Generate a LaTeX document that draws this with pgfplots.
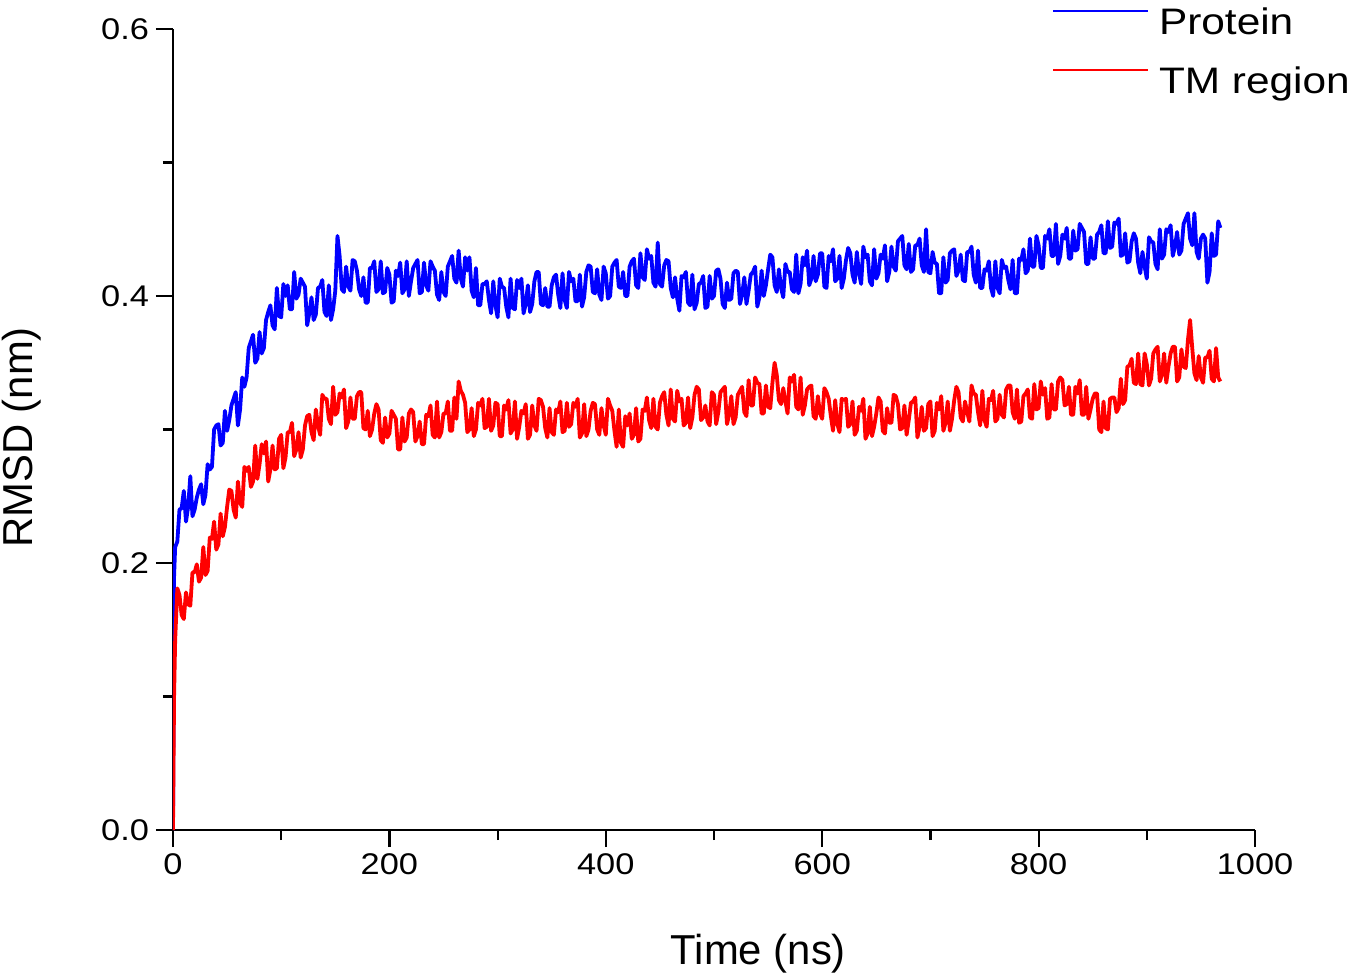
\documentclass[border=0pt]{standalone}
\usepackage{pgfplots}
\pgfplotsset{compat=1.18}
\usepackage{pgfplotstable}
\usepackage{fontspec}
\setmainfont{Liberation Sans}
\newfontfamily\widefont[FakeStretch=1.15]{Liberation Sans}
\pgfplotstableread{
t P T
0 0.000 0.000
1 0.190 0.100
2 0.212 0.142
4 0.216 0.181
6 0.240 0.176
8 0.241 0.161
10 0.254 0.158
12 0.231 0.178
14 0.242 0.169
16 0.265 0.168
18 0.235 0.193
20 0.240 0.193
22 0.249 0.199
24 0.255 0.186
26 0.259 0.189
28 0.244 0.212
30 0.251 0.191
32 0.274 0.194
34 0.270 0.219
36 0.272 0.218
38 0.300 0.231
40 0.303 0.210
42 0.304 0.214
44 0.288 0.237
46 0.290 0.220
48 0.314 0.227
50 0.299 0.242
52 0.307 0.255
54 0.318 0.254
56 0.323 0.240
58 0.328 0.234
60 0.303 0.261
62 0.315 0.245
64 0.339 0.242
66 0.332 0.272
68 0.339 0.269
70 0.361 0.272
72 0.366 0.257
74 0.371 0.261
76 0.350 0.288
78 0.353 0.263
80 0.373 0.274
82 0.357 0.289
84 0.361 0.282
86 0.382 0.291
88 0.388 0.261
90 0.393 0.270
92 0.378 0.288
94 0.375 0.270
96 0.406 0.271
98 0.385 0.293
100 0.384 0.296
102 0.409 0.271
104 0.400 0.279
106 0.408 0.298
108 0.390 0.298
110 0.390 0.305
112 0.418 0.280
114 0.398 0.285
116 0.401 0.298
118 0.413 0.279
120 0.410 0.285
122 0.407 0.303
124 0.378 0.310
126 0.387 0.311
128 0.399 0.298
130 0.382 0.292
132 0.386 0.315
134 0.406 0.303
136 0.407 0.296
138 0.412 0.326
140 0.388 0.323
142 0.385 0.323
144 0.408 0.308
146 0.382 0.304
148 0.390 0.332
150 0.404 0.311
152 0.445 0.313
154 0.430 0.327
156 0.405 0.324
158 0.403 0.330
160 0.422 0.301
162 0.407 0.306
164 0.404 0.324
166 0.427 0.308
168 0.426 0.308
170 0.419 0.325
172 0.405 0.328
174 0.400 0.328
176 0.414 0.301
178 0.395 0.300
180 0.395 0.314
182 0.421 0.295
184 0.421 0.300
186 0.426 0.312
188 0.403 0.319
190 0.405 0.315
192 0.426 0.292
194 0.402 0.290
196 0.403 0.309
198 0.421 0.294
200 0.416 0.297
202 0.395 0.314
204 0.396 0.311
206 0.419 0.308
208 0.415 0.285
210 0.425 0.285
212 0.402 0.309
214 0.405 0.291
216 0.426 0.294
218 0.400 0.312
220 0.411 0.315
222 0.421 0.313
224 0.424 0.291
226 0.427 0.295
228 0.402 0.306
230 0.403 0.289
232 0.425 0.289
234 0.408 0.311
236 0.404 0.310
238 0.426 0.318
240 0.422 0.296
242 0.419 0.294
244 0.401 0.321
246 0.397 0.294
248 0.418 0.298
250 0.403 0.312
252 0.400 0.312
254 0.422 0.321
256 0.426 0.299
258 0.430 0.299
260 0.413 0.324
262 0.410 0.308
264 0.434 0.336
266 0.413 0.329
268 0.407 0.326
270 0.429 0.320
272 0.419 0.298
274 0.429 0.300
276 0.404 0.316
278 0.399 0.295
280 0.421 0.300
282 0.393 0.320
284 0.393 0.318
286 0.409 0.323
288 0.409 0.301
290 0.411 0.302
292 0.397 0.323
294 0.387 0.299
296 0.411 0.303
298 0.393 0.320
300 0.384 0.319
302 0.413 0.295
304 0.407 0.295
306 0.406 0.318
308 0.392 0.315
310 0.384 0.322
312 0.413 0.297
314 0.391 0.300
316 0.390 0.321
318 0.412 0.293
320 0.406 0.302
322 0.413 0.314
324 0.387 0.312
326 0.394 0.319
328 0.408 0.293
330 0.388 0.296
332 0.394 0.318
334 0.411 0.303
336 0.418 0.299
338 0.418 0.323
340 0.394 0.322
342 0.393 0.317
344 0.406 0.301
346 0.392 0.294
348 0.392 0.316
350 0.408 0.298
352 0.414 0.296
354 0.416 0.315
356 0.401 0.313
358 0.391 0.321
360 0.417 0.298
362 0.397 0.299
364 0.391 0.320
366 0.418 0.302
368 0.411 0.304
370 0.413 0.320
372 0.396 0.317
374 0.396 0.323
376 0.416 0.294
378 0.392 0.297
380 0.399 0.319
382 0.418 0.295
384 0.423 0.300
386 0.422 0.314
388 0.403 0.320
390 0.402 0.319
392 0.420 0.300
394 0.401 0.296
396 0.397 0.316
398 0.422 0.303
400 0.417 0.296
402 0.398 0.323
404 0.400 0.318
406 0.422 0.314
408 0.425 0.299
410 0.427 0.287
412 0.407 0.315
414 0.406 0.290
416 0.418 0.287
418 0.400 0.310
420 0.400 0.303
422 0.422 0.312
424 0.426 0.293
426 0.428 0.296
428 0.408 0.316
430 0.406 0.291
432 0.432 0.293
434 0.414 0.315
436 0.412 0.314
438 0.435 0.324
440 0.428 0.307
442 0.430 0.301
444 0.410 0.323
446 0.407 0.302
448 0.440 0.300
450 0.409 0.320
452 0.407 0.325
454 0.423 0.328
456 0.427 0.311
458 0.426 0.303
460 0.406 0.330
462 0.399 0.308
464 0.414 0.306
466 0.398 0.329
468 0.389 0.321
470 0.415 0.323
472 0.414 0.303
474 0.418 0.305
476 0.395 0.324
478 0.393 0.301
480 0.416 0.309
482 0.390 0.326
484 0.395 0.332
486 0.409 0.330
488 0.410 0.307
490 0.415 0.309
492 0.391 0.318
494 0.392 0.306
496 0.415 0.303
498 0.398 0.328
500 0.400 0.326
502 0.419 0.304
504 0.420 0.313
506 0.413 0.328
508 0.394 0.330
510 0.391 0.332
512 0.410 0.304
514 0.397 0.311
516 0.398 0.325
518 0.417 0.304
520 0.419 0.309
522 0.418 0.326
524 0.394 0.329
526 0.401 0.332
528 0.414 0.313
530 0.394 0.310
532 0.404 0.337
534 0.416 0.318
536 0.418 0.318
538 0.422 0.339
540 0.392 0.335
542 0.399 0.334
544 0.419 0.312
546 0.400 0.312
548 0.408 0.333
550 0.420 0.317
552 0.431 0.316
554 0.429 0.335
556 0.408 0.350
558 0.403 0.341
560 0.420 0.322
562 0.406 0.319
564 0.399 0.331
566 0.424 0.321
568 0.418 0.312
570 0.418 0.339
572 0.405 0.336
574 0.403 0.341
576 0.431 0.317
578 0.402 0.315
580 0.409 0.339
582 0.429 0.311
584 0.423 0.318
586 0.434 0.330
588 0.408 0.332
590 0.413 0.333
592 0.430 0.310
594 0.411 0.308
596 0.416 0.325
598 0.432 0.312
600 0.432 0.308
602 0.407 0.331
604 0.406 0.328
606 0.430 0.323
608 0.426 0.310
610 0.435 0.299
612 0.411 0.322
614 0.413 0.304
616 0.430 0.298
618 0.406 0.323
620 0.413 0.322
622 0.427 0.323
624 0.436 0.302
626 0.432 0.304
628 0.416 0.321
630 0.410 0.296
632 0.433 0.299
634 0.417 0.317
636 0.409 0.314
638 0.437 0.323
640 0.429 0.293
642 0.431 0.297
644 0.411 0.317
646 0.408 0.295
648 0.435 0.302
650 0.413 0.312
652 0.417 0.324
654 0.431 0.321
656 0.428 0.299
658 0.438 0.297
660 0.411 0.316
662 0.418 0.305
664 0.437 0.305
666 0.422 0.326
668 0.419 0.325
670 0.441 0.319
672 0.443 0.300
674 0.445 0.301
676 0.423 0.318
678 0.420 0.296
680 0.439 0.307
682 0.418 0.320
684 0.420 0.321
686 0.438 0.324
688 0.438 0.294
690 0.443 0.302
692 0.423 0.317
694 0.418 0.299
696 0.450 0.301
698 0.418 0.319
700 0.417 0.321
702 0.433 0.295
704 0.425 0.299
706 0.424 0.320
708 0.402 0.315
710 0.402 0.325
712 0.429 0.299
714 0.410 0.305
716 0.412 0.321
718 0.432 0.299
720 0.434 0.308
722 0.435 0.322
724 0.415 0.332
726 0.419 0.328
728 0.431 0.309
730 0.412 0.306
732 0.411 0.321
734 0.433 0.313
736 0.433 0.306
738 0.437 0.333
740 0.416 0.327
742 0.410 0.326
744 0.434 0.313
746 0.406 0.303
748 0.406 0.329
750 0.420 0.307
752 0.419 0.302
754 0.426 0.323
756 0.406 0.322
758 0.400 0.329
760 0.426 0.306
762 0.406 0.308
764 0.402 0.326
766 0.427 0.311
768 0.421 0.309
770 0.422 0.330
772 0.412 0.333
774 0.405 0.333
776 0.427 0.313
778 0.402 0.308
780 0.402 0.330
782 0.428 0.305
784 0.427 0.306
786 0.435 0.325
788 0.417 0.327
790 0.419 0.330
792 0.443 0.309
794 0.422 0.308
796 0.422 0.334
798 0.445 0.315
800 0.438 0.316
802 0.421 0.336
804 0.421 0.326
806 0.445 0.331
808 0.443 0.308
810 0.450 0.309
812 0.430 0.334
814 0.430 0.315
816 0.454 0.315
818 0.424 0.336
820 0.430 0.339
822 0.446 0.337
824 0.443 0.318
826 0.451 0.319
828 0.428 0.332
830 0.428 0.311
832 0.449 0.311
834 0.434 0.332
836 0.435 0.327
838 0.454 0.337
840 0.451 0.311
842 0.448 0.311
844 0.424 0.332
846 0.424 0.308
848 0.444 0.315
850 0.428 0.323
852 0.428 0.327
854 0.446 0.327
856 0.448 0.300
858 0.453 0.298
860 0.432 0.321
862 0.432 0.301
864 0.456 0.300
866 0.436 0.323
868 0.437 0.324
870 0.455 0.324
872 0.454 0.313
874 0.458 0.316
876 0.430 0.338
878 0.431 0.319
880 0.447 0.322
882 0.425 0.347
884 0.426 0.348
886 0.441 0.353
888 0.447 0.335
890 0.443 0.334
892 0.425 0.357
894 0.417 0.334
896 0.433 0.333
898 0.422 0.357
900 0.413 0.349
902 0.444 0.333
904 0.441 0.338
906 0.440 0.357
908 0.424 0.360
910 0.420 0.362
912 0.450 0.336
914 0.428 0.341
916 0.431 0.357
918 0.450 0.335
920 0.448 0.347
922 0.453 0.357
924 0.430 0.362
926 0.437 0.362
928 0.448 0.336
930 0.431 0.339
932 0.434 0.360
934 0.454 0.347
936 0.458 0.346
938 0.462 0.367
940 0.443 0.382
942 0.438 0.361
944 0.462 0.342
946 0.433 0.337
948 0.428 0.355
950 0.443 0.339
952 0.446 0.335
954 0.443 0.354
956 0.410 0.354
958 0.418 0.359
960 0.447 0.338
962 0.430 0.336
964 0.431 0.361
966 0.456 0.339
968 0.451 0.336
}\rmsddata
\begin{document}
\begin{tikzpicture}
\path[use as bounding box] (-86.5bp,-72.5bp) rectangle (588.5bp,415bp);
\begin{axis}[
  scale only axis,
  width=541bp, height=400.5bp,
  xmin=0, xmax=1000, ymin=0, ymax=0.6,
  axis lines=left,
  axis line style={-, line width=1.1bp, black},
  tick style={line width=1.1bp, black},
  tick align=outside,
  major tick length=8.5bp,
  minor tick length=5bp,
  xtick={0,200,...,1000},
  ytick={0,0.2,0.4,0.6},
  minor x tick num=1,
  minor y tick num=1,
  /pgf/number format/assume math mode=true,
  /pgf/number format/1000 sep={},
  yticklabel style={/pgf/number format/.cd, fixed, fixed zerofill, precision=1},
  xticklabel style={/pgf/number format/.cd, fixed, 1000 sep={}},
  tick label style={font=\widefont\fontsize{15}{18}\selectfont},
  label style={font=\fontsize{21}{25}\selectfont},
  xlabel={Time (ns)},
  ylabel={RMSD (nm)},
  xlabel style={at={(axis description cs:0.541,-0.168)}, anchor=base},
  ylabel style={at={(axis description cs:-0.1294,0.49)}, anchor=base},
  legend style={draw=none, fill=none, at={(axis description cs:0.8124,1.0275)}, anchor=north west,
    inner sep=0pt, outer sep=0pt, row sep=11.5bp, column sep=0pt,
    font=\widefont\fontsize{18.5}{22}\selectfont,
    nodes={inner sep=0pt, text height=14bp, text depth=4bp}},
  legend cell align=left,
  legend image code/.code={\draw[#1, line width=1bp] (0bp,7bp) -- (47.5bp,7bp);},
  /tikz/every odd column/.append style={column sep=5bp},
]
\addplot[blue, line width=1.9bp, line join=round] table[x=t, y=P] {\rmsddata};
\addlegendentry{Protein}
\addplot[red, line width=1.9bp, line join=round] table[x=t, y=T] {\rmsddata};
\addlegendentry{TM region}
\end{axis}
\end{tikzpicture}
\end{document}
